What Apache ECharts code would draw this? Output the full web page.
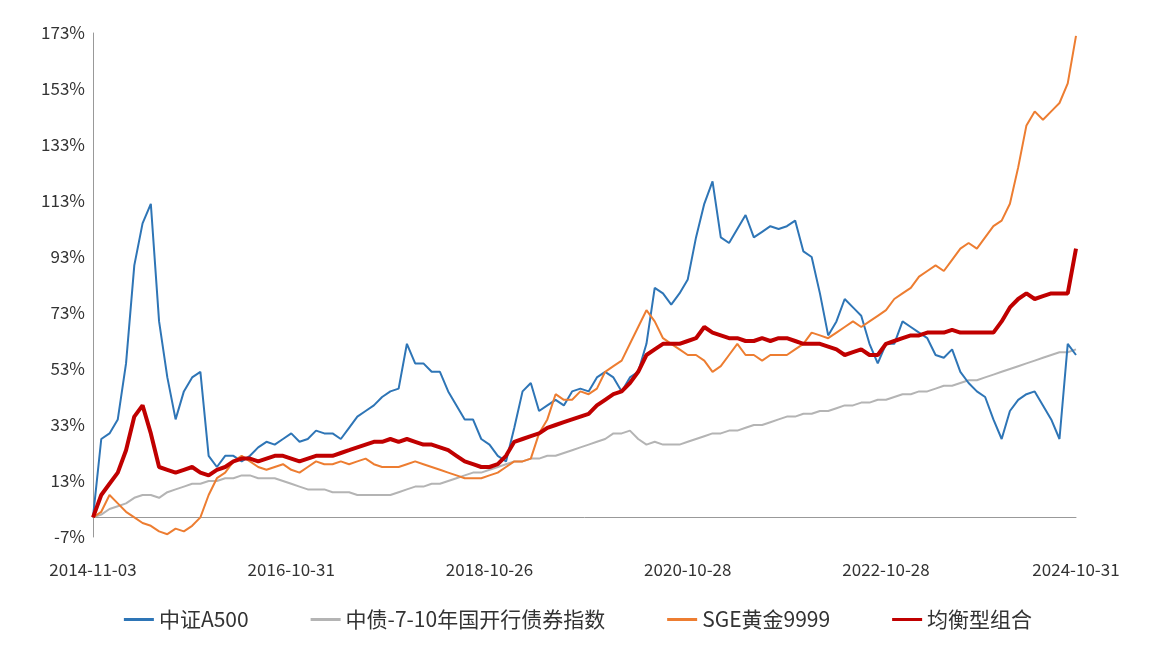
<!DOCTYPE html>
<html><head><meta charset="utf-8">
<script src="https://cdn.jsdelivr.net/npm/echarts@6/dist/echarts.min.js"></script>
<style>html,body{margin:0;background:#fff}#c{width:1156px;height:657px}</style>
</head><body><div id="c"></div>
<script>
// month-end sample points, 2014-11 .. 2024-10 (cumulative return, %)
var a500 = [0,28,30,35,55,90,105,112,70,50,35,45,50,52,22,18,22,22,20,22,25,27,26,28,
  30,27,28,31,30,30,28,32,36,38,40,43,45,46,62,55,55,52,52,45,40,35,35,28,
  26,22,20,32,45,48,38,40,42,40,45,46,45,50,52,50,45,50,52,62,82,80,76,80,
  85,100,112,120,100,98,103,108,100,102,104,103,104,106,95,93,80,65,70,78,75,72,62,55,
  62,62,70,68,66,64,58,57,60,52,48,45,43,35,28,38,42,44,45,40,35,28,62,58];
var bond = [0,1,3,4,5,7,8,8,7,9,10,11,12,12,13,13,14,14,15,15,14,14,14,13,
  12,11,10,10,10,9,9,9,8,8,8,8,8,9,10,11,11,12,12,13,14,15,16,16,
  17,18,19,20,20,21,21,22,22,23,24,25,26,27,28,30,30,31,28,26,27,26,26,26,
  27,28,29,30,30,31,31,32,33,33,34,35,36,36,37,37,38,38,39,40,40,41,41,42,
  42,43,44,44,45,45,46,47,47,48,49,49,50,51,52,53,54,55,56,57,58,59,59,60];
var gold = [0,2,8,5,2,0,-2,-3,-5,-6,-4,-5,
  -3,0,8,14,16,20,22,20,18,17,18,19,
  17,16,18,20,19,19,20,19,20,21,19,18,
  18,18,19,20,19,18,17,16,15,14,14,14,
  15,16,18,20,20,21,30,35,44,42,42,45,
  44,46,52,54,56,62,68,74,70,64,62,60,
  58,58,56,52,54,58,62,58,58,56,58,58,
  58,60,62,66,65,64,66,68,70,68,70,72,
  74,78,80,82,86,88,90,88,92,96,98,96,
  100,104,106,112,125,140,145,142,145,148,155,172];
var balanced = [0,8,12,16,24,36,40,30,18,17,16,17,
  18,16,15,17,18,20,21,21,20,21,22,22,
  21,20,21,22,22,22,23,24,25,26,27,27,
  28,27,28,27,26,26,25,24,22,20,19,18,
  18,19,22,27,28,29,30,32,33,34,35,36,
  37,40,42,44,45,48,52,58,60,62,62,62,
  63,64,68,66,65,64,64,63,63,64,63,64,
  64,63,62,62,62,61,60,58,59,60,58,58,
  62,63,64,65,65,66,66,66,67,66,66,66,
  66,66,70,75,78,80,78,79,80,80,80,96];
var names = ['中证A500','中债-7-10年国开行债券指数','SGE黄金9999','均衡型组合'];
var colors = ['#2e75b6','#b4b4b4','#ed7d31','#c00000'];
var tickIdx = {0:'2014-11-03',24:'2016-10-31',48:'2018-10-26',72:'2020-10-28',96:'2022-10-28',119:'2024-10-31'};

var dates = [];
for (var i = 0; i < 120; i++) {
  var y = 2014 + Math.floor((10 + i) / 12), m = (10 + i) % 12 + 1;
  dates.push(tickIdx[i] || (y + '-' + (m < 10 ? '0' + m : m) + '-28'));
}
var data = [a500, bond, gold, balanced];
var chart = echarts.init(document.getElementById('c'));
var font = '"Noto Sans CJK SC","Noto Sans",sans-serif';
chart.setOption({
  animation: false,
  color: colors,
  grid: {left: 93, right: 80, top: 33, bottom: 120},
  legend: {
    bottom: 22, itemGap: 62, itemWidth: 30, itemHeight: 3,
    icon: 'rect',
    textStyle: {fontSize: 21, color: '#333', fontFamily: font},
    data: names
  },
  xAxis: {
    type: 'category', data: dates, boundaryGap: false,
    axisLine: {onZero: true, lineStyle: {color: '#999'}},
    axisTick: {show: false},
    axisLabel: {
      interval: function (i) { return tickIdx[i] !== undefined; },
      color: '#333', fontSize: 17, fontFamily: font, margin: 24,
      showMaxLabel: true
    }
  },
  yAxis: {
    type: 'value', min: -7, max: 173, interval: 20,
    splitLine: {show: false},
    axisLine: {show: true, lineStyle: {color: '#999'}},
    axisTick: {show: false},
    axisLabel: {formatter: '{value}%', color: '#333', fontSize: 17, fontFamily: font}
  },
  series: data.map(function (d, k) {
    return {
      name: names[k], type: 'line', data: d, showSymbol: false,
      z: k == 3 ? 5 : (k == 1 ? 2 : 3),
      lineStyle: {width: k == 3 ? 4 : 2, color: colors[k]}
    };
  })
});
</script></body></html>
